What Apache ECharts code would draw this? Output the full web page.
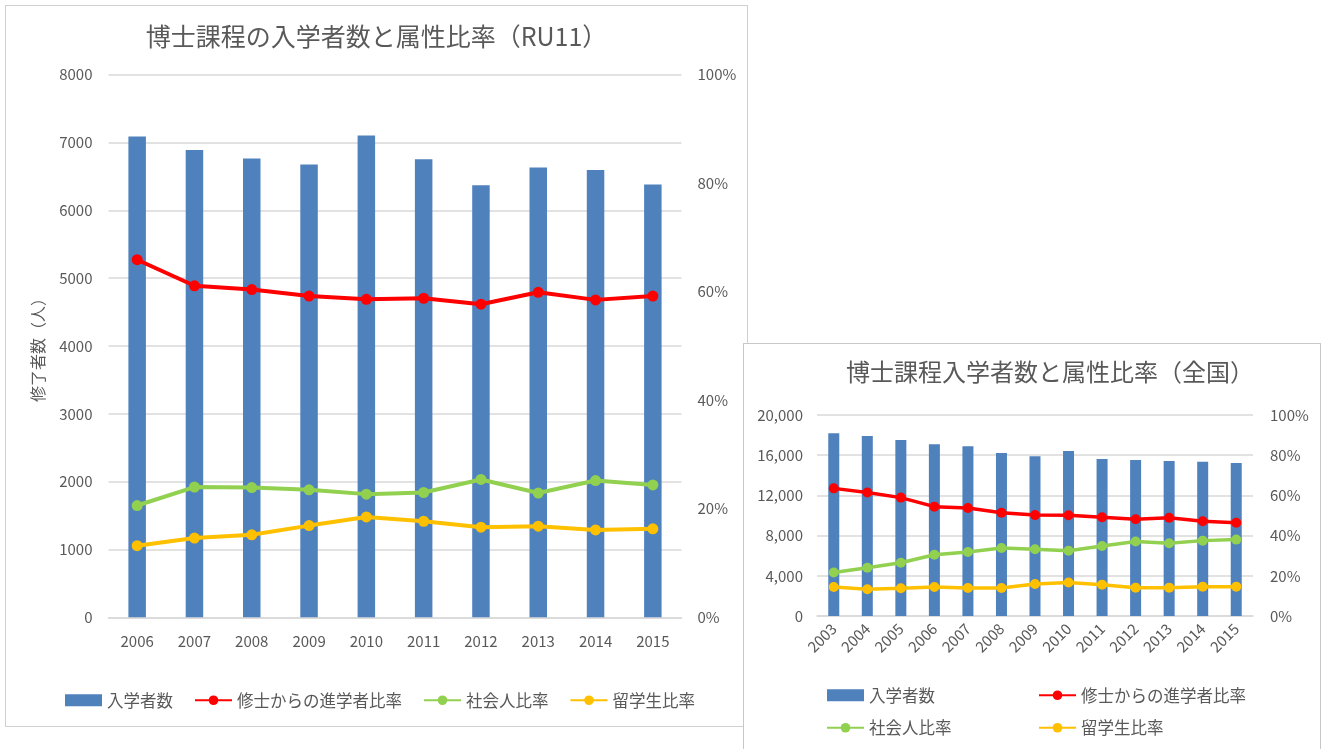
<!DOCTYPE html>
<html>
<head>
<meta charset="utf-8">
<script src="https://cdn.jsdelivr.net/npm/echarts@6/dist/echarts.min.js"></script>
<style>
  html, body { margin: 0; padding: 0; background: #fff; overflow: hidden; width: 1323px; height: 749px; }
  #chartRU11 { position: absolute; left: 5px; top: 5px; width: 743px; height: 722px; border: 1px solid #d0d0d0; box-sizing: border-box; background: #fff; }
  #chartAll { position: absolute; left: 743px; top: 343px; width: 578px; height: 420px; border: 1px solid #c8c8c8; box-sizing: border-box; background: #fff; }
</style>
</head>
<body>
<div id="chartRU11"></div>
<div id="chartAll"></div>
<script>
  // RU11 (left chart)
  var ru11Years = ['2006', '2007', '2008', '2009', '2010', '2011', '2012', '2013', '2014', '2015'];
  var ru11Entrants = [7090, 6890, 6765, 6675, 7105, 6755, 6370, 6630, 6595, 6380];
  var ru11FromMaster = [65.9, 61.1, 60.4, 59.2, 58.6, 58.8, 57.7, 59.9, 58.5, 59.2];
  var ru11Working = [20.6, 24.0, 23.9, 23.5, 22.7, 23.0, 25.4, 22.9, 25.2, 24.4];
  var ru11Intl = [13.2, 14.6, 15.2, 16.9, 18.5, 17.7, 16.6, 16.8, 16.1, 16.3];

  // 全国 (right chart)
  var allYears = ['2003', '2004', '2005', '2006', '2007', '2008', '2009', '2010', '2011', '2012', '2013', '2014', '2015'];
  var allEntrants = [18180, 17910, 17510, 17080, 16880, 16220, 15890, 16420, 15620, 15520, 15420, 15360, 15220];
  var allFromMaster = [63.5, 61.4, 58.9, 54.4, 53.7, 51.4, 50.2, 50.1, 49.1, 48.1, 48.9, 47.1, 46.4];
  var allWorking = [21.6, 24.0, 26.5, 30.5, 31.8, 33.8, 33.2, 32.5, 34.8, 37.1, 36.2, 37.5, 38.0];
  var allIntl = [14.4, 13.3, 13.8, 14.4, 13.9, 13.9, 15.9, 16.7, 15.6, 14.1, 14.1, 14.6, 14.6];

  var seriesNames = ['入学者数', '修士からの進学者比率', '社会人比率', '留学生比率'];
  var colors = ['#4f81bd', '#ff0000', '#92d050', '#ffc000'];
  var font = '"Noto Sans CJK JP", "Noto Sans", sans-serif';
  var textColor = '#595959';

  function lineSeries(name, data, color, width, size) {
    return {
      name: name,
      type: 'line',
      yAxisIndex: 1,
      data: data,
      symbol: 'circle',
      symbolSize: size,
      lineStyle: { color: color, width: width },
      itemStyle: { color: color },
      z: 3
    };
  }

  // 左のグラフ
  var chart1 = echarts.init(document.getElementById('chartRU11'));
  chart1.setOption({
    textStyle: { fontFamily: font },
    title: {
      text: '博士課程の入学者数と属性比率（RU11）',
      left: 'center',
      top: 13,
      textStyle: { color: textColor, fontSize: 25, fontWeight: 'normal', fontFamily: font }
    },
    legend: {
      left: 54,
      top: 681,
      itemWidth: 37,
      itemHeight: 12,
      itemGap: 21,
      textStyle: { color: textColor, fontSize: 16.5, fontFamily: font },
      data: [{ name: seriesNames[0], icon: 'rect' }, seriesNames[1], seriesNames[2], seriesNames[3]]
    },
    grid: { left: 102.5, right: 65.5, top: 68.7, bottom: 108.7 },
    xAxis: {
      type: 'category',
      data: ru11Years,
      axisTick: { show: false },
      axisLine: { lineStyle: { color: '#d9d9d9', width: 1.5 } },
      axisLabel: { color: textColor, fontSize: 15, margin: 16 }
    },
    yAxis: [
      {
        type: 'value',
        min: 0,
        max: 8000,
        interval: 1000,
        name: '修了者数（人）',
        nameLocation: 'middle',
        nameRotate: 90,
        nameGap: 63,
        nameTextStyle: { color: textColor, fontSize: 16 },
        axisLabel: { color: textColor, fontSize: 15, margin: 16, formatter: function (v) { return String(v); } },
        splitLine: { lineStyle: { color: '#d9d9d9', width: 1.5 } }
      },
      {
        type: 'value',
        min: 0,
        max: 100,
        interval: 20,
        axisLabel: { color: textColor, fontSize: 15, margin: 16, formatter: '{value}%' },
        splitLine: { show: false }
      }
    ],
    series: [
      {
        name: seriesNames[0],
        type: 'bar',
        data: ru11Entrants,
        barWidth: 17.5,
        itemStyle: { color: colors[0] }
      },
      lineSeries(seriesNames[1], ru11FromMaster, colors[1], 4, 11),
      lineSeries(seriesNames[2], ru11Working, colors[2], 4, 11),
      lineSeries(seriesNames[3], ru11Intl, colors[3], 4, 11)
    ]
  });

  // 右のグラフ（全国）
  var chart2 = echarts.init(document.getElementById('chartAll'));
  chart2.setOption({
    textStyle: { fontFamily: font },
    title: {
      text: '博士課程入学者数と属性比率（全国）',
      left: 97,
      top: 11,
      textStyle: { color: textColor, fontSize: 24, fontWeight: 'normal', fontFamily: font }
    },
    legend: [
      {
        left: 82,
        top: 343,
        padding: 0,
        orient: 'vertical',
        itemWidth: 37,
        itemHeight: 12,
        itemGap: 16,
        textStyle: { color: textColor, fontSize: 16.5, fontFamily: font },
        data: [{ name: seriesNames[0], icon: 'rect' }, seriesNames[2]]
      },
      {
        left: 294,
        top: 343,
        padding: 0,
        orient: 'vertical',
        itemWidth: 37,
        itemHeight: 12,
        itemGap: 16,
        textStyle: { color: textColor, fontSize: 16.5, fontFamily: font },
        data: [seriesNames[1], seriesNames[3]]
      }
    ],
    grid: { left: 73, right: 67, top: 71, bottom: 146 },
    xAxis: {
      type: 'category',
      data: allYears,
      axisTick: { show: false },
      axisLine: { lineStyle: { color: '#d9d9d9', width: 1.5 } },
      axisLabel: { color: textColor, fontSize: 15, margin: 10, rotate: 45, interval: 0 }
    },
    yAxis: [
      {
        type: 'value',
        min: 0,
        max: 20000,
        interval: 4000,
        axisLabel: {
          color: textColor, fontSize: 15, margin: 14,
          formatter: function (v) { return String(v).replace(/\B(?=(\d{3})+(?!\d))/g, ','); }
        },
        splitLine: { lineStyle: { color: '#d9d9d9', width: 1.5 } }
      },
      {
        type: 'value',
        min: 0,
        max: 100,
        interval: 20,
        axisLabel: { color: textColor, fontSize: 15, margin: 17, formatter: '{value}%' },
        splitLine: { show: false }
      }
    ],
    series: [
      {
        name: seriesNames[0],
        type: 'bar',
        data: allEntrants,
        barWidth: 11,
        itemStyle: { color: colors[0] }
      },
      lineSeries(seriesNames[1], allFromMaster, colors[1], 3.5, 10),
      lineSeries(seriesNames[2], allWorking, colors[2], 3.5, 10),
      lineSeries(seriesNames[3], allIntl, colors[3], 3.5, 10)
    ]
  });
</script>
</body>
</html>
